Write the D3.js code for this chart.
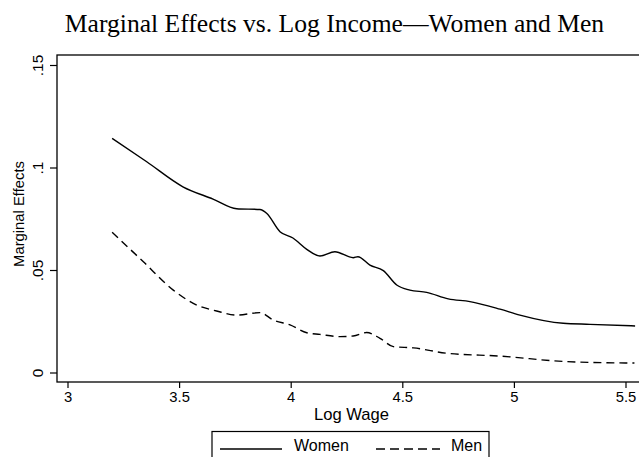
<!DOCTYPE html>
<html>
<head>
<meta charset="utf-8">
<script src="https://cdn.jsdelivr.net/npm/d3@7"></script>
<style>
  body { margin: 0; background: #fff; }
  text { font-family: "Liberation Sans", Arial, sans-serif; fill: #000; }
</style>
</head>
<body>
<svg id="chart" width="639" height="457"></svg>
<script>
// Log wage values and marginal effects
var womenX = [3.2, 3.355, 3.517, 3.652, 3.758, 3.862, 3.892, 3.952, 4.01, 4.072, 4.131, 4.198, 4.28, 4.301, 4.355, 4.415, 4.475, 4.534, 4.609, 4.706, 4.803, 4.938, 5.027, 5.221, 5.341, 5.543];
var womenY = [0.1142, 0.1028, 0.0906, 0.0846, 0.0799, 0.0795, 0.0777, 0.0687, 0.0656, 0.0601, 0.0568, 0.0589, 0.056, 0.0565, 0.0524, 0.0497, 0.0427, 0.0402, 0.0391, 0.0359, 0.0346, 0.0309, 0.028, 0.024, 0.0235, 0.0227];

var menX = [3.2, 3.34, 3.474, 3.579, 3.668, 3.758, 3.862, 3.922, 3.997, 4.072, 4.131, 4.221, 4.28, 4.34, 4.4, 4.46, 4.55, 4.699, 4.938, 5.237, 5.54];
var menY = [0.0684, 0.054, 0.0402, 0.0329, 0.03, 0.028, 0.0292, 0.0256, 0.0232, 0.0194, 0.0186, 0.0175, 0.0178, 0.0195, 0.0167, 0.0126, 0.012, 0.0094, 0.008, 0.0053, 0.0046];

var xTicks = [3, 3.5, 4, 4.5, 5, 5.5];
var xTickLabels = ["3", "3.5", "4", "4.5", "5", "5.5"];
var yTicks = [0, 0.05, 0.1, 0.15];
var yTickLabels = ["0", ".05", ".1", ".15"];

var seriesNames = ["Women", "Men"];

var svg = d3.select("#chart");

// Plot frame
var frame = { left: 57, top: 55, right: 641, bottom: 382 };

var x = d3.scaleLinear()
    .domain([3, 5.5])
    .range([67.5, 625.5]);

var y = d3.scaleLinear()
    .domain([0, 0.15])
    .range([372.5, 65]);

// Title
svg.append("text")
    .attr("x", 334.5)
    .attr("y", 32)
    .attr("text-anchor", "middle")
    .style("font-family", "'Liberation Serif', 'Times New Roman', serif")
    .style("font-size", "25.6px")
    .text("Marginal Effects vs. Log Income\u2014Women and Men");

svg.append("rect")
    .attr("x", frame.left)
    .attr("y", frame.top)
    .attr("width", frame.right - frame.left)
    .attr("height", frame.bottom - frame.top)
    .attr("fill", "none")
    .attr("stroke", "#000")
    .attr("stroke-width", 1.3);

// Y axis
var yAxis = svg.append("g")
    .attr("transform", "translate(" + frame.left + ",0)")
    .call(d3.axisLeft(y)
        .tickValues(yTicks)
        .tickSize(7)
        .tickFormat(function(d, i) { return yTickLabels[i]; }));

yAxis.select(".domain").remove();
yAxis.selectAll("line").attr("stroke", "#000").attr("stroke-width", 1.2);
yAxis.selectAll("text")
    .attr("transform", "rotate(-90)")
    .attr("x", 0)
    .attr("y", -14)
    .attr("dy", 0)
    .attr("text-anchor", "middle")
    .style("font-size", "15.5px");

// X axis
var xAxis = svg.append("g")
    .attr("transform", "translate(0," + frame.bottom + ")")
    .call(d3.axisBottom(x)
        .tickValues(xTicks)
        .tickSize(6)
        .tickFormat(function(d, i) { return xTickLabels[i]; }));

xAxis.select(".domain").remove();
xAxis.selectAll("line").attr("stroke", "#000").attr("stroke-width", 1.2);
xAxis.selectAll("text")
    .attr("y", 20)
    .attr("dy", 0)
    .style("font-size", "14.8px");

// Axis titles
svg.append("text")
    .attr("x", 351.5)
    .attr("y", 419.5)
    .attr("text-anchor", "middle")
    .style("font-size", "16.6px")
    .text("Log Wage");

svg.append("text")
    .attr("transform", "translate(24,214) rotate(-90)")
    .attr("text-anchor", "middle")
    .style("font-size", "14.8px")
    .text("Marginal Effects");

// Lines
var line = d3.line()
    .x(function(d) { return x(d[0]); })
    .y(function(d) { return y(d[1]); })
    .curve(d3.curveMonotoneX);

var women = womenX.map(function(v, i) { return [v, womenY[i]]; });
var men = menX.map(function(v, i) { return [v, menY[i]]; });

svg.append("path")
    .datum(women)
    .attr("d", line)
    .attr("fill", "none")
    .attr("stroke", "#000")
    .attr("stroke-width", 1.4);

svg.append("path")
    .datum(men)
    .attr("d", line)
    .attr("fill", "none")
    .attr("stroke", "#000")
    .attr("stroke-width", 1.4)
    .attr("stroke-dasharray", "8,5");

// Legend
var legend = svg.append("g");

legend.append("rect")
    .attr("x", 212)
    .attr("y", 431.5)
    .attr("width", 277)
    .attr("height", 40)
    .attr("fill", "#fff")
    .attr("stroke", "#000")
    .attr("stroke-width", 1.2);

legend.append("line")
    .attr("x1", 220).attr("x2", 282)
    .attr("y1", 449).attr("y2", 449)
    .attr("stroke", "#000")
    .attr("stroke-width", 1.4);

legend.append("text")
    .attr("x", 294)
    .attr("y", 451)
    .style("font-size", "16px")
    .text(seriesNames[0]);

legend.append("line")
    .attr("x1", 376).attr("x2", 440)
    .attr("y1", 449).attr("y2", 449)
    .attr("stroke", "#000")
    .attr("stroke-width", 1.4)
    .attr("stroke-dasharray", "9,5");

legend.append("text")
    .attr("x", 451)
    .attr("y", 451)
    .style("font-size", "16px")
    .text(seriesNames[1]);
</script>
</body>
</html>
